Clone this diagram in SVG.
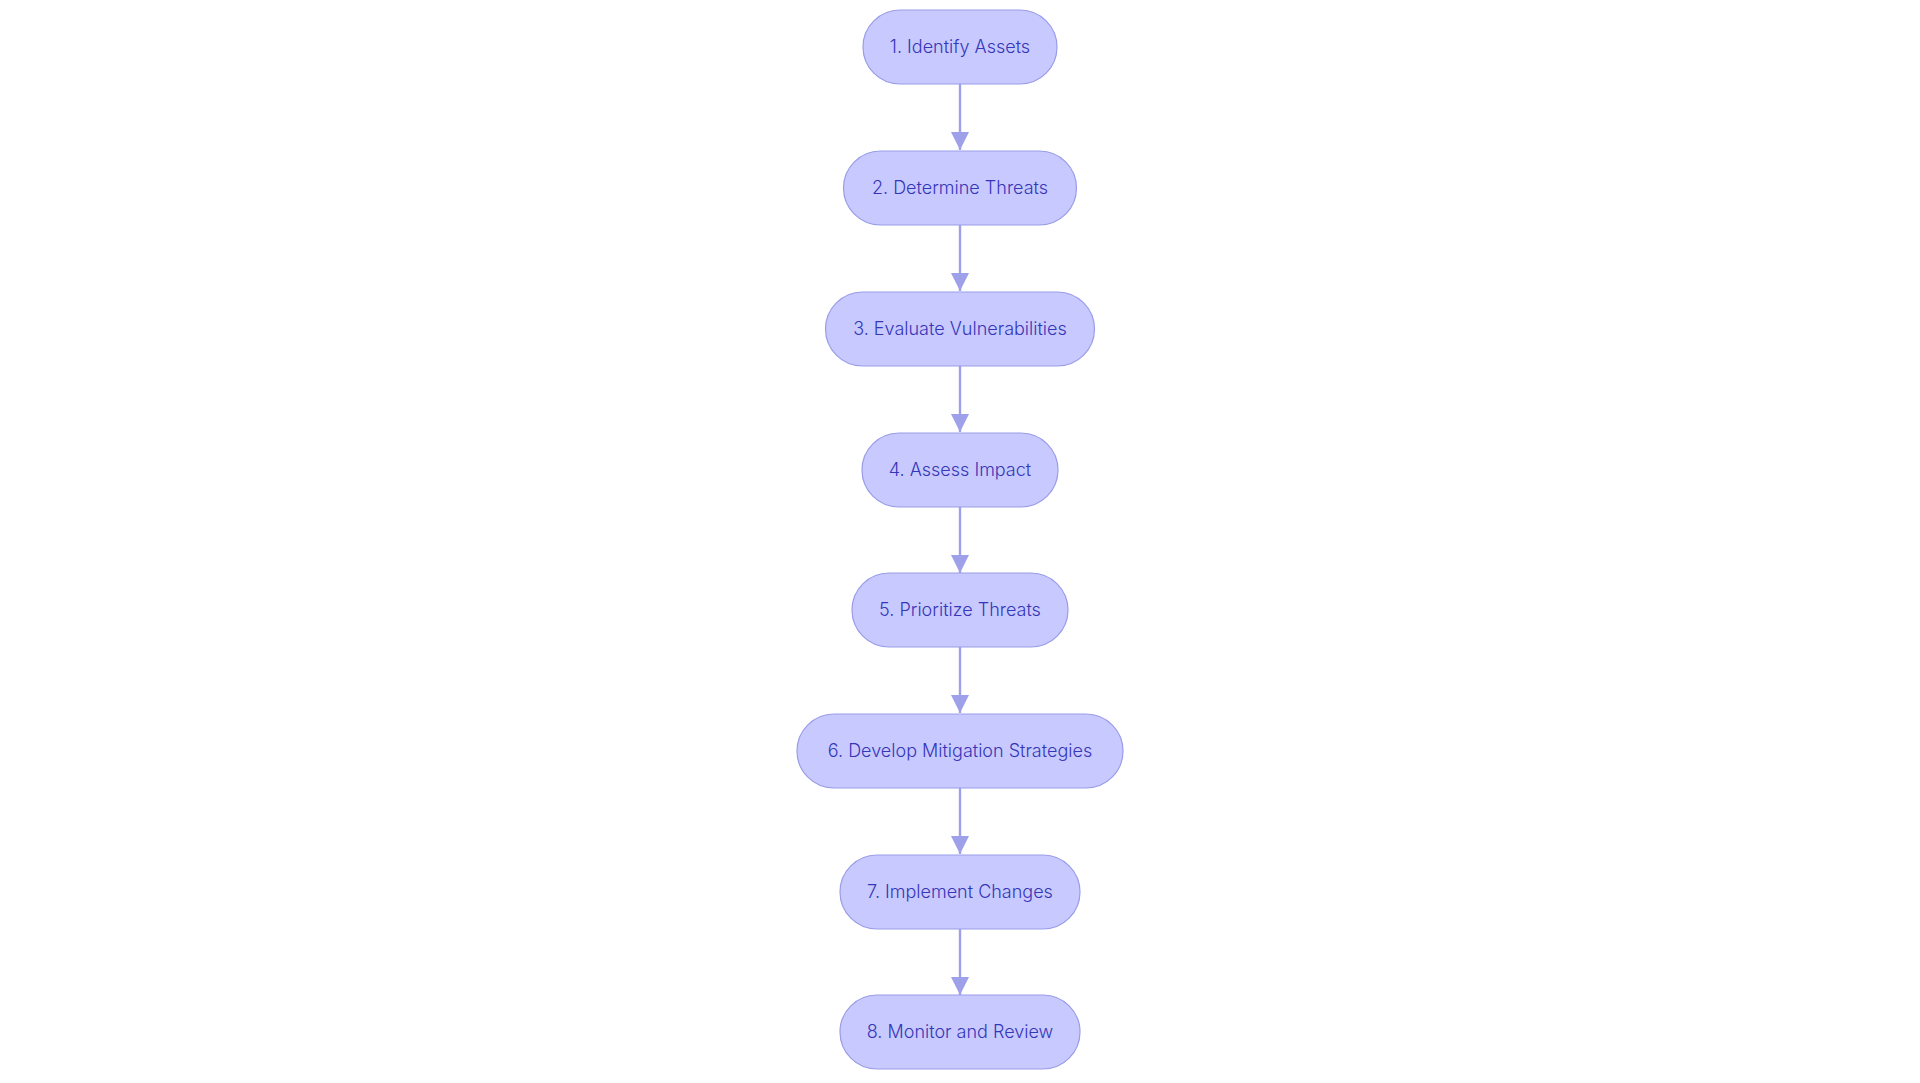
<svg xmlns="http://www.w3.org/2000/svg" width="1920" height="1083" viewBox="0 0 1920 1083">
<style>
.n rect{fill:#c8caff;stroke:#9a9ce8;stroke-width:1.2}
.n text{font-family:Inter,"Noto Sans",sans-serif;font-size:18px;font-weight:300;fill:#3536b8;text-anchor:middle;dominant-baseline:central}
.e path{stroke:#9ea0ea;stroke-width:2.4;fill:none}
</style>
<defs>
<marker id="ah" viewBox="0 0 10 10" refX="10" refY="5" markerWidth="7.5" markerHeight="7.5" markerUnits="strokeWidth" orient="auto">
<path d="M0,0 L10,5 L0,10 z" fill="#9ea0ea"/>
</marker>
</defs>
<rect width="1920" height="1083" fill="#ffffff"/>
<g class="e">
<path d="M960,84 V150" marker-end="url(#ah)"/>
<path d="M960,225 V291" marker-end="url(#ah)"/>
<path d="M960,366 V432" marker-end="url(#ah)"/>
<path d="M960,507 V573" marker-end="url(#ah)"/>
<path d="M960,647 V713" marker-end="url(#ah)"/>
<path d="M960,788 V854" marker-end="url(#ah)"/>
<path d="M960,929 V995" marker-end="url(#ah)"/>
</g>
<g id="n1" class="n"><rect x="863" y="10" width="194" height="74" rx="37"/><text x="960" y="46">1. Identify Assets</text></g>
<g id="n2" class="n"><rect x="843.5" y="151" width="233" height="74" rx="37"/><text x="960" y="187">2. Determine Threats</text></g>
<g id="n3" class="n"><rect x="825.5" y="292" width="269" height="74" rx="37"/><text x="960" y="328">3. Evaluate Vulnerabilities</text></g>
<g id="n4" class="n"><rect x="862" y="433" width="196" height="74" rx="37"/><text x="960" y="469">4. Assess Impact</text></g>
<g id="n5" class="n"><rect x="852" y="573" width="216" height="74" rx="37"/><text x="960" y="609">5. Prioritize Threats</text></g>
<g id="n6" class="n"><rect x="797" y="714" width="326" height="74" rx="37"/><text x="960" y="750">6. Develop Mitigation Strategies</text></g>
<g id="n7" class="n"><rect x="840" y="855" width="240" height="74" rx="37"/><text x="960" y="891">7. Implement Changes</text></g>
<g id="n8" class="n"><rect x="840" y="995" width="240" height="74" rx="37"/><text x="960" y="1031">8. Monitor and Review</text></g>
</svg>
